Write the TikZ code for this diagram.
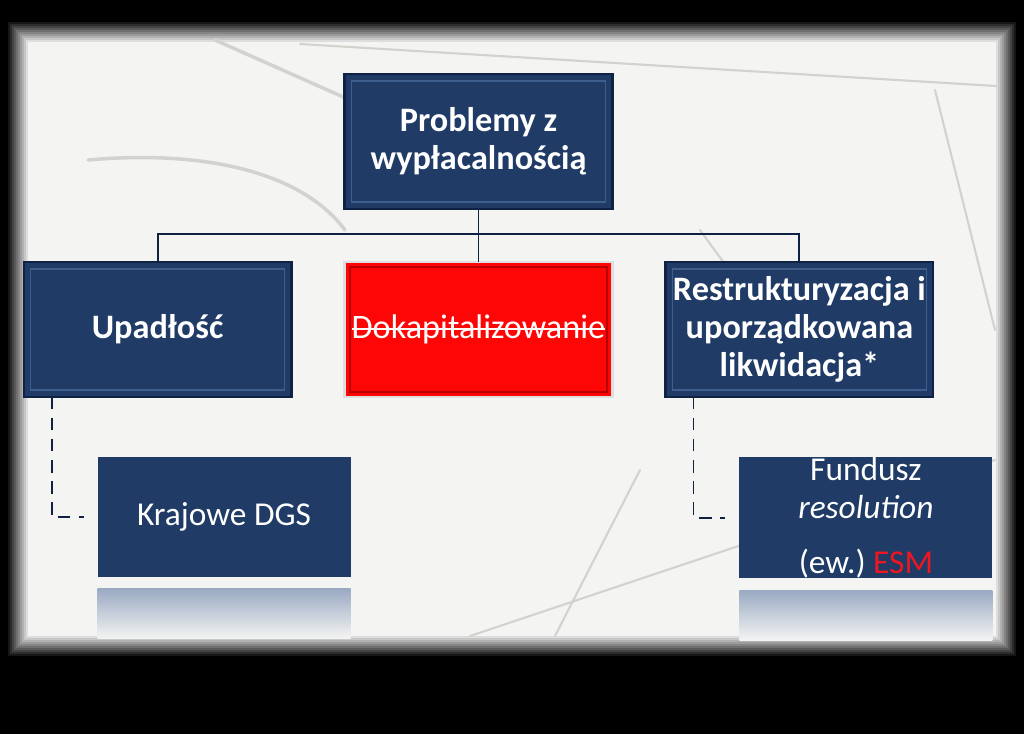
\documentclass[tikz,border=0pt]{standalone}
\usepackage{fontspec}
\setmainfont{Carlito}
\usepackage{tikz}
\usetikzlibrary{positioning,calc}
\definecolor{navy}{HTML}{1F3B66}
\definecolor{navyedge}{HTML}{0F2244}
\definecolor{bevel}{HTML}{3E5E8E}
\definecolor{alarm}{HTML}{FF0606}
\definecolor{alarmedge}{HTML}{B80000}
\definecolor{paper}{HTML}{F4F4F3}
\definecolor{sketch}{HTML}{D2D2CE}
\definecolor{esm}{HTML}{EE1620}
\definecolor{mirror}{HTML}{9AAAC2}
\newcommand{\boldtxt}{\fontsize{19.5}{21.6}\selectfont\bfseries}
\newcommand{\plaintxt}{\fontsize{19}{21.6}\selectfont}
\newsavebox{\strkbox}
\newcommand{\strk}[1]{\sbox{\strkbox}{#1}\rlap{\rule[0.5ex]{\wd\strkbox}{1.1pt}}\usebox{\strkbox}}
\frenchspacing
\tikzset{
  box/.style={rectangle, draw=navyedge, fill=navy, line width=1.2pt, text=white,
              text width=5.3cm, align=flush center, minimum width=5.36cm, minimum height=2.7cm,
              inner sep=0pt, outer sep=0pt, font=\boldtxt,
              path picture={\draw[bevel, line width=0.9pt]
                ([shift={(4pt,-4pt)}]path picture bounding box.north west) rectangle
                ([shift={(-4pt,4pt)}]path picture bounding box.south east);}},
  strike/.style={rectangle, draw=gray!25, fill=alarm, line width=1.4pt, text=white,
              text width=5.3cm, align=flush center, minimum width=5.36cm, minimum height=2.7cm,
              inner sep=0pt, outer sep=0pt, font=\fontsize{19.5}{21.6}\selectfont,
              path picture={\draw[alarmedge, line width=1pt]
                ([shift={(3pt,-3pt)}]path picture bounding box.north west) rectangle
                ([shift={(-3pt,3pt)}]path picture bounding box.south east);}},
  fund/.style={rectangle, fill=navy, text=white, text width=5cm, align=flush center,
              minimum width=5.06cm, minimum height=2.4cm, inner sep=0pt, outer sep=0pt,
              font=\plaintxt},
  flow/.style={draw=navyedge, line width=1.1pt},
  dflow/.style={draw=navyedge, line width=1.1pt, dash pattern=on 7pt off 5pt},
  stroke/.style={draw=sketch, line width=1.2pt, line cap=round}
}
\begin{document}
\begin{tikzpicture}[x=0.02cm, y=-0.02cm, node distance=1.06cm]
\useasboundingbox (0,0) rectangle (1024,734);
% frame and paper
\fill[black] (0,0) rectangle (1024,734);
\fill[paper] (8,22) rectangle (1016,656);
\foreach \i in {0,...,9}
  \draw[black, opacity={0.9*(1-\i/10)}, line width=0.045cm]
    (9+2*\i,23+2*\i) rectangle (1015-2*\i,655-2*\i);
% sketch strokes behind
\draw[stroke, line width=2pt] (215,40) -- (350,100);
\draw[stroke] (300,44) -- (996,86);
\draw[stroke, line width=2pt] (88,160) .. controls (200,150) and (300,170) .. (345,230);
\draw[stroke] (935,90) -- (995,330);
\draw[stroke] (470,636) -- (995,460);
\draw[stroke] (555,636) -- (640,470);
\draw[stroke] (700,230) -- (780,340);

\node[box] (top) at (478.5,141.5) {Problemy z\\wypłacalnością};
\node[strike, below=of top] (dokap) {\strk{Dokapitalizowanie}};
\node[box, left=of dokap] (upad) {Upadłość};
\node[box, right=of dokap] (restr) {Restrukturyzacja i\\uporządkowana\\likwidacja*};
\node[fund, below=1.2cm of upad, xshift=1.33cm] (kraj) {Krajowe DGS};
\node[fund, below=1.2cm of restr, xshift=1.33cm] (fundusz)
  {Fundusz\\\textit{resolution}\\[10pt](ew.) \textcolor{esm}{ESM}};

% reflections
\shade[top color=mirror, bottom color=paper] ($(kraj.south west)+(0,12)$) rectangle ($(kraj.south east)+(0,62)$);
\shade[top color=mirror, bottom color=paper] ($(fundusz.south west)+(0,12)$) rectangle ($(fundusz.south east)+(0,62)$);

\coordinate (bus) at ($(top.south)+(0,25)$);
\draw[flow] (top.south) -- (bus);
\draw[flow] (bus) -| (upad.north); \draw[flow] (bus) -| (restr.north);
\draw[flow] (bus) -- (dokap.north);
\draw[dflow] ([xshift=0.56cm]upad.south west) |- ([xshift=-0.28cm]kraj.west);
\draw[dflow] ([xshift=0.56cm]restr.south west) |- ([xshift=-0.28cm]fundusz.west);
\end{tikzpicture}
\end{document}
